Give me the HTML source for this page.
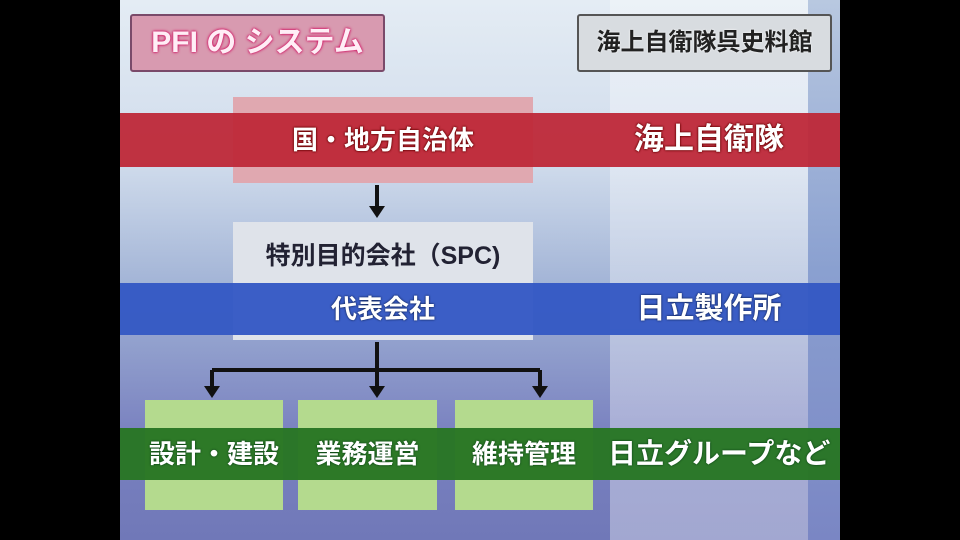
<!DOCTYPE html>
<html><head><meta charset="utf-8"><style>
body{margin:0;width:960px;height:540px;background:#000;overflow:hidden;position:relative;font-family:"Liberation Sans","Noto Sans CJK JP",sans-serif;font-weight:bold}
.a{position:absolute}
.bg{left:120px;top:0;width:720px;height:540px;background:linear-gradient(180deg,#e4ecf4 0%,#d0dcec 30%,#9eb0d4 55%,#7a82c0 80%,#7078b8 100%)}
.rp{left:610px;top:0;width:198px;height:540px;background:linear-gradient(180deg,rgba(255,255,255,.3),rgba(255,255,255,.35) 60%,rgba(255,255,255,.35))}
.rs{left:808px;top:0;width:32px;height:540px;background:linear-gradient(180deg,#b8c8e0,#8aa0d0 50%,#7a86c4)}
.t{color:#fff;font-size:30px;text-align:center;line-height:52px}
.band{left:120px;width:720px}
</style></head><body>
<div class="a bg"></div><div class="a rp"></div><div class="a rs"></div>
<div class="a" style="left:130px;top:14px;width:251px;height:54px;background:#d89ab0;border:2px solid #7a4a6a;border-radius:3px;color:#ffeef6;font-size:30px;line-height:54px;text-align:center;text-shadow:0 0 3px #d01060,0 0 2px #d01060">PFI の システム</div>
<div class="a" style="left:577px;top:14px;width:251px;height:54px;background:#d8dce0;border:2px solid #555;border-radius:3px;color:#222;font-size:24px;line-height:54px;text-align:center;text-shadow:0 0 2px #fff">海上自衛隊呉史料館</div>
<div class="a" style="left:233px;top:97px;width:300px;height:86px;background:#e0a8b0"></div>
<div class="a band" style="top:113px;height:54px;background:rgba(190,40,56,.95)"></div>
<div class="a t" style="left:233px;top:114px;width:300px;font-size:26px;text-shadow:0 0 2px #600,0 0 2px #600">国・地方自治体</div>
<div class="a t" style="left:610px;top:114px;width:198px;font-size:30px;text-shadow:0 0 2px #600,0 0 2px #600">海上自衛隊</div>
<div class="a" style="left:233px;top:222px;width:300px;height:118px;background:#dfe3ea"></div>
<div class="a" style="left:233px;top:232px;width:300px;color:#223;font-size:25px;text-align:center;line-height:48px">特別目的会社（SPC)</div>
<div class="a band" style="top:283px;height:52px;background:rgba(52,88,196,.96)"></div>
<div class="a t" style="left:233px;top:283px;width:300px;font-size:26px;text-shadow:0 0 2px #013">代表会社</div>
<div class="a t" style="left:610px;top:283px;width:198px;font-size:29px;text-shadow:0 0 2px #013">日立製作所</div>
<div class="a" style="left:145px;top:400px;width:138px;height:110px;background:#b4da8e"></div>
<div class="a" style="left:298px;top:400px;width:139px;height:110px;background:#b4da8e"></div>
<div class="a" style="left:455px;top:400px;width:138px;height:110px;background:#b4da8e"></div>
<div class="a band" style="top:428px;height:52px;background:rgba(40,118,36,.97)"></div>
<div class="a t" style="left:145px;top:428px;width:138px;font-size:26px;text-shadow:0 0 2px #031">設計・建設</div>
<div class="a t" style="left:298px;top:428px;width:139px;font-size:26px;text-shadow:0 0 2px #031">業務運営</div>
<div class="a t" style="left:455px;top:428px;width:138px;font-size:26px;text-shadow:0 0 2px #031">維持管理</div>
<div class="a t" style="left:608px;top:428px;width:232px;font-size:28px;text-align:left;text-shadow:0 0 2px #031">日立グループなど</div>
<svg class="a" style="left:0;top:0" width="960" height="540">
<g stroke="#111" stroke-width="4" fill="none"><path d="M377 185V208"/><path d="M377 342V390"/><path d="M212 370H540"/><path d="M212 370V390"/><path d="M540 370V390"/></g>
<g fill="#111"><path d="M369 206h16l-8 12z"/><path d="M369 386h16l-8 12z"/><path d="M204 386h16l-8 12z"/><path d="M532 386h16l-8 12z"/></g>
</svg>
</body></html>
